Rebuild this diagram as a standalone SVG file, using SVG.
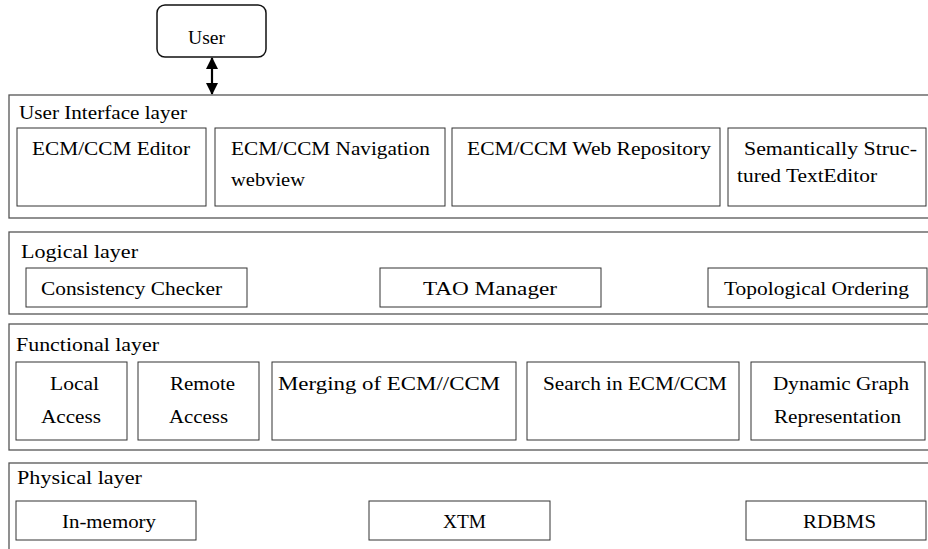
<svg xmlns="http://www.w3.org/2000/svg" width="928" height="549" viewBox="0 0 928 549">
<style>
.layer{fill:none;stroke:#555;stroke-width:1.3;}
.box{fill:#fff;stroke:#333;stroke-width:1;}
.user{fill:#fff;stroke:#111;stroke-width:1.5;}
.conn{stroke:#000;stroke-width:2.2;fill:none;}
</style>
<defs>
<marker id="ah" viewBox="0 0 12 12" refX="11" refY="6" markerWidth="12" markerHeight="12" markerUnits="userSpaceOnUse" orient="auto-start-reverse">
<path d="M0,0 L12,6 L0,12 Z" fill="#000"/>
</marker>
</defs>
<rect width="928" height="549" fill="#fff"/>

<g id="connectors">
<line class="conn" x1="212" y1="58" x2="212" y2="94" marker-start="url(#ah)" marker-end="url(#ah)"/>
</g>

<g id="user">
<rect class="user" x="157" y="5" width="109" height="52" rx="8"/>
<text x="188" y="44" font-family="Liberation Serif" font-size="19.5" fill="#000" textLength="37" lengthAdjust="spacingAndGlyphs">User</text>
</g>

<g id="ui-layer">
<rect class="layer" x="9" y="95" width="930" height="123"/>
<text x="19" y="119" font-family="Liberation Serif" font-size="19.5" fill="#000" textLength="168" lengthAdjust="spacingAndGlyphs">User Interface layer</text>
</g>
<g id="ecm-editor">
<rect class="box" x="17" y="128" width="189" height="78"/>
<text x="32" y="155" font-family="Liberation Serif" font-size="19.5" fill="#000" textLength="158" lengthAdjust="spacingAndGlyphs">ECM/CCM Editor</text>
</g>
<g id="ecm-navigation">
<rect class="box" x="215" y="128" width="230" height="78"/>
<text x="231" y="155" font-family="Liberation Serif" font-size="19.5" fill="#000" textLength="199" lengthAdjust="spacingAndGlyphs">ECM/CCM Navigation</text>
<text x="231" y="186" font-family="Liberation Serif" font-size="19.5" fill="#000" textLength="74" lengthAdjust="spacingAndGlyphs">webview</text>
</g>
<g id="ecm-web-repository">
<rect class="box" x="452" y="128" width="268" height="78"/>
<text x="467" y="155" font-family="Liberation Serif" font-size="19.5" fill="#000" textLength="244" lengthAdjust="spacingAndGlyphs">ECM/CCM Web Repository</text>
</g>
<g id="semantic-editor">
<rect class="box" x="728" y="128" width="198" height="78"/>
<text x="744" y="155" font-family="Liberation Serif" font-size="19.5" fill="#000" textLength="173" lengthAdjust="spacingAndGlyphs">Semantically  Struc-</text>
<text x="737" y="182" font-family="Liberation Serif" font-size="19.5" fill="#000" textLength="140" lengthAdjust="spacingAndGlyphs">tured TextEditor</text>
</g>

<g id="logical-layer">
<rect class="layer" x="9" y="232" width="930" height="82"/>
<text x="21" y="258" font-family="Liberation Serif" font-size="19.5" fill="#000" textLength="117" lengthAdjust="spacingAndGlyphs">Logical  layer</text>
</g>
<g id="consistency-checker">
<rect class="box" x="26" y="268" width="221" height="39"/>
<text x="41" y="295" font-family="Liberation Serif" font-size="19.5" fill="#000" textLength="181" lengthAdjust="spacingAndGlyphs">Consistency Checker</text>
</g>
<g id="tao-manager">
<rect class="box" x="380" y="268" width="221" height="39"/>
<text x="423" y="295" font-family="Liberation Serif" font-size="19.5" fill="#000" textLength="134" lengthAdjust="spacingAndGlyphs">TAO Manager</text>
</g>
<g id="topological-ordering">
<rect class="box" x="708" y="268" width="219" height="39"/>
<text x="724" y="295" font-family="Liberation Serif" font-size="19.5" fill="#000" textLength="185" lengthAdjust="spacingAndGlyphs">Topological Ordering</text>
</g>

<g id="functional-layer">
<rect class="layer" x="9" y="324" width="930" height="126"/>
<text x="16" y="351" font-family="Liberation Serif" font-size="19.5" fill="#000" textLength="143" lengthAdjust="spacingAndGlyphs">Functional  layer</text>
</g>
<g id="local-access">
<rect class="box" x="16" y="362" width="111" height="78"/>
<text x="50" y="390" font-family="Liberation Serif" font-size="19.5" fill="#000" textLength="49" lengthAdjust="spacingAndGlyphs">Local</text>
<text x="41" y="423" font-family="Liberation Serif" font-size="19.5" fill="#000" textLength="60" lengthAdjust="spacingAndGlyphs">Access</text>
</g>
<g id="remote-access">
<rect class="box" x="138" y="362" width="121" height="78"/>
<text x="170" y="390" font-family="Liberation Serif" font-size="19.5" fill="#000" textLength="65" lengthAdjust="spacingAndGlyphs">Remote</text>
<text x="169" y="423" font-family="Liberation Serif" font-size="19.5" fill="#000" textLength="59" lengthAdjust="spacingAndGlyphs">Access</text>
</g>
<g id="merging">
<rect class="box" x="272" y="362" width="244" height="78"/>
<text x="278" y="390" font-family="Liberation Serif" font-size="19.5" fill="#000" textLength="222" lengthAdjust="spacingAndGlyphs">Merging of  ECM//CCM</text>
</g>
<g id="search">
<rect class="box" x="527" y="362" width="212" height="78"/>
<text x="543" y="390" font-family="Liberation Serif" font-size="19.5" fill="#000" textLength="184" lengthAdjust="spacingAndGlyphs">Search in ECM/CCM</text>
</g>
<g id="dynamic-graph">
<rect class="box" x="751" y="362" width="174" height="78"/>
<text x="773" y="390" font-family="Liberation Serif" font-size="19.5" fill="#000" textLength="136" lengthAdjust="spacingAndGlyphs">Dynamic Graph</text>
<text x="774" y="423" font-family="Liberation Serif" font-size="19.5" fill="#000" textLength="127" lengthAdjust="spacingAndGlyphs">Representation</text>
</g>

<g id="physical-layer">
<rect class="layer" x="9" y="463" width="930" height="100"/>
<text x="17" y="484" font-family="Liberation Serif" font-size="19.5" fill="#000" textLength="125" lengthAdjust="spacingAndGlyphs">Physical  layer</text>
</g>
<g id="in-memory">
<rect class="box" x="16" y="501" width="180" height="39"/>
<text x="62" y="528" font-family="Liberation Serif" font-size="19.5" fill="#000" textLength="94" lengthAdjust="spacingAndGlyphs">In-memory</text>
</g>
<g id="xtm">
<rect class="box" x="369" y="501" width="181" height="39"/>
<text x="443" y="528" font-family="Liberation Serif" font-size="19.5" fill="#000" textLength="43" lengthAdjust="spacingAndGlyphs">XTM</text>
</g>
<g id="rdbms">
<rect class="box" x="746" y="501" width="180" height="39"/>
<text x="803" y="528" font-family="Liberation Serif" font-size="19.5" fill="#000" textLength="73" lengthAdjust="spacingAndGlyphs">RDBMS</text>
</g>
</svg>
